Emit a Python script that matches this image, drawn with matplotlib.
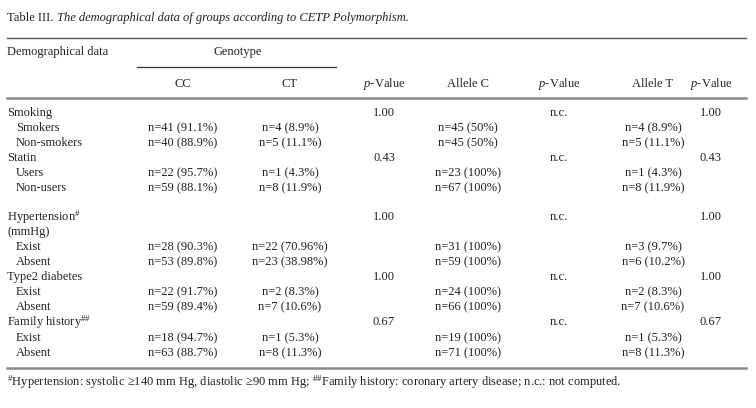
import matplotlib.pyplot as plt

plt.rcParams['font.family'] = 'Liberation Serif'
plt.rcParams['mathtext.fontset'] = 'custom'
plt.rcParams['mathtext.rm'] = 'Liberation Serif'
plt.rcParams['mathtext.it'] = 'Liberation Serif:italic'

TXT = '#222222'
FS = 9

# table data
labels = ['Smoking', 'Smokers', 'Non-smokers', 'Statin', 'Users', 'Non-users', '',
          r'Hypertension$^{\mathit{\#}}$', '(mmHg)', 'Exist', 'Absent', 'Type2 diabetes',
          'Exist', 'Absent', r'Family history$^{\mathit{\#\#}}$', 'Exist', 'Absent']
indent = [0, 1, 1, 0, 1, 1, 0, 0, 0, 1, 1, 0, 1, 1, 0, 1, 1]
cc = ['', 'n=41 (91.1%)', 'n=40 (88.9%)', '', 'n=22 (95.7%)', 'n=59 (88.1%)', '',
      '', '', 'n=28 (90.3%)', 'n=53 (89.8%)', '', 'n=22 (91.7%)', 'n=59 (89.4%)',
      '', 'n=18 (94.7%)', 'n=63 (88.7%)']
ct = ['', 'n=4 (8.9%)', 'n=5 (11.1%)', '', 'n=1 (4.3%)', 'n=8 (11.9%)', '',
      '', '', 'n=22 (70.96%)', 'n=23 (38.98%)', '', 'n=2 (8.3%)', 'n=7 (10.6%)',
      '', 'n=1 (5.3%)', 'n=8 (11.3%)']
p_geno = ['1.00', '', '', '0.43', '', '', '', '1.00', '', '', '', '1.00', '', '', '0.67', '', '']
allele_c = ['', 'n=45 (50%)', 'n=45 (50%)', '', 'n=23 (100%)', 'n=67 (100%)', '',
            '', '', 'n=31 (100%)', 'n=59 (100%)', '', 'n=24 (100%)', 'n=66 (100%)',
            '', 'n=19 (100%)', 'n=71 (100%)']
p_c = ['n.c.', '', '', 'n.c.', '', '', '', 'n.c.', '', '', '', 'n.c.', '', '', 'n.c.', '', '']
allele_t = ['', 'n=4 (8.9%)', 'n=5 (11.1%)', '', 'n=1 (4.3%)', 'n=8 (11.9%)', '',
            '', '', 'n=3 (9.7%)', 'n=6 (10.2%)', '', 'n=2 (8.3%)', 'n=7 (10.6%)',
            '', 'n=1 (5.3%)', 'n=8 (11.3%)']
p_t = ['1.00', '', '', '0.43', '', '', '', '1.00', '', '', '', '1.00', '', '', '0.67', '', '']

headers = ['CC', 'CT', '$p$-Value', 'Allele C', '$p$-Value', 'Allele T', '$p$-Value']
col_x = [183, 290, 384, 468, 559, 653, 711]
columns = [cc, ct, p_geno, allele_c, p_c, allele_t, p_t]

fig = plt.figure(figsize=(7.56, 4.08), dpi=100)
ax = fig.add_axes([0, 0, 1, 1])
ax.set_xlim(0, 756)
ax.set_ylim(408, 0)
ax.axis('off')

# title
ax.text(7, 18, 'Table III. ', fontsize=FS, color=TXT, va='center')
ax.text(57, 18, 'The demographical data of groups according to CETP Polymorphism.',
        fontsize=FS, color=TXT, va='center', style='italic')

# rules
ax.plot([7, 746], [38, 38], color='#555555', lw=1.0)
ax.plot([137, 336], [67, 67], color='#333333', lw=0.9)
ax.plot([7, 746], [98, 98], color='#8a8a8a', lw=1.8)
ax.plot([7, 746], [368, 368], color='#8a8a8a', lw=1.8)

ax.text(7, 52, 'Demographical data', fontsize=FS, color=TXT, va='center')
ax.text(238, 52, 'Genotype', fontsize=FS, color=TXT, va='center', ha='center')
for x, h in zip(col_x, headers):
    ax.text(x, 84, h, fontsize=FS, color=TXT, va='center', ha='center')

row_y = [113, 128, 143, 158, 173, 188, 202, 217, 232, 247, 262, 277, 292, 307, 322, 338, 353]
for i, y in enumerate(row_y):
    ax.text(7 + 9 * indent[i], y, labels[i], fontsize=FS, color=TXT, va='center')
    for x, col in zip(col_x, columns):
        if col[i]:
            ax.text(x, y, col[i], fontsize=FS, color=TXT, va='center', ha='center')

ax.text(7, 382, r'$^{\mathit{\#}}$Hypertension: systolic ≥140 mm Hg, diastolic ≥90 mm Hg; '
        r'$^{\mathit{\#\#}}$Family history: coronary artery disease; n.c.: not computed.',
        fontsize=FS, color=TXT, va='center')

fig.savefig('out.png', dpi=100)
